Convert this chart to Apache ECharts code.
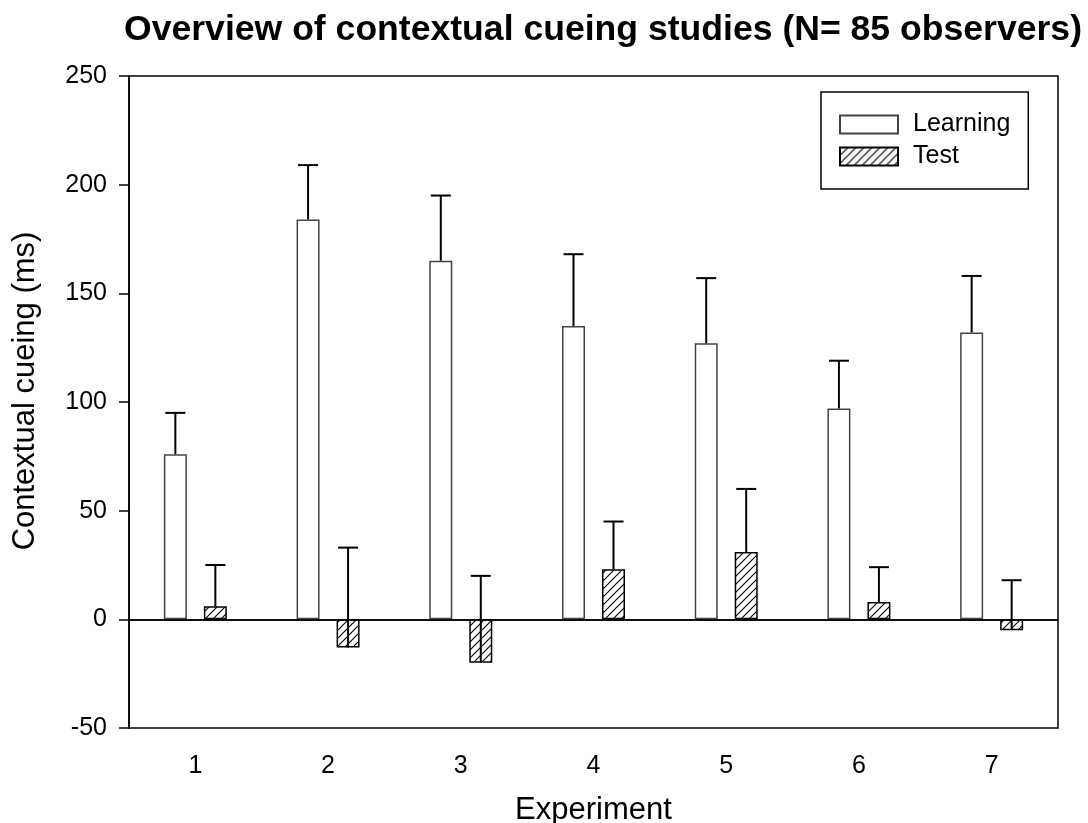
<!DOCTYPE html>
<html>
<head>
<meta charset="utf-8">
<script src="https://cdn.jsdelivr.net/npm/echarts@6/dist/echarts.min.js"></script>
<style>
html,body{margin:0;padding:0;background:#fff;}
#chart{width:1088px;height:823px;}
</style>
</head>
<body>
<div id="chart"></div>
<script>
// ---- data ----
const experiments = ['1', '2', '3', '4', '5', '6', '7'];
const learning = [76, 184, 165, 135, 127, 97, 132];
const learningUpper = [95, 209, 195, 168, 157, 119, 158];
const test = [6, -13, -20, 23, 31, 8, -5];
const testUpper = [25, 33, 20, 45, 60, 24, 18];
const yTicks = { min: -50, max: 250, interval: 50 };

const FONT = "'Liberation Sans', Arial, sans-serif";

// hatch pattern
function makeHatch() {
  const s = 8;
  const c = document.createElement('canvas');
  c.width = s; c.height = s;
  const g = c.getContext('2d');
  g.fillStyle = '#fff';
  g.fillRect(0, 0, s, s);
  g.strokeStyle = '#000';
  g.lineWidth = 1.1;
  g.beginPath();
  g.moveTo(0, s); g.lineTo(s, 0);
  g.moveTo(-1, 1); g.lineTo(1, -1);
  g.moveTo(s - 1, s + 1); g.lineTo(s + 1, s - 1);
  g.stroke();
  return c;
}
const hatch = { image: makeHatch(), repeat: 'repeat' };

const BAR_W = 23;
const BAR_GAP_PX = 17;
const OFFSET = (BAR_W + BAR_GAP_PX) / 2;

function errRender(offsetSign) {
  return function (params, api) {
    const i = api.value(0);
    const v = api.value(1);
    const hi = api.value(2);
    const p0 = api.coord([i, v]);
    const p1 = api.coord([i, hi]);
    const x = p0[0] + offsetSign * OFFSET;
    const cap = 10;
    return {
      type: 'group',
      children: [
        { type: 'line', shape: { x1: x, y1: p0[1], x2: x, y2: p1[1] },
          style: { stroke: '#000', lineWidth: 2 } },
        { type: 'line', shape: { x1: x - cap, y1: p1[1], x2: x + cap, y2: p1[1] },
          style: { stroke: '#000', lineWidth: 2 } }
      ]
    };
  };
}

const chart = echarts.init(document.getElementById('chart'), null, { renderer: 'canvas' });
chart.setOption({
  animation: false,
  backgroundColor: '#fff',
  title: {
    text: 'Overview of contextual cueing studies (N= 85 observers)',
    left: 598, top: 7, textAlign: 'center',
    textStyle: { fontFamily: FONT, fontWeight: 'bold', fontSize: 35.6, color: '#000' }
  },
  legend: {
    data: ['Learning', 'Test'],
    orient: 'vertical',
    left: 821, top: 92,
    padding: [20, 18, 20, 18],
    itemWidth: 58, itemHeight: 18, itemGap: 7,
    borderColor: '#000', borderWidth: 1.5,
    icon: 'rect',
    textStyle: { fontFamily: FONT, fontSize: 25, color: '#000', padding: [0, 0, 0, 10] }
  },
  grid: {
    left: 129, right: 30, top: 76, bottom: 95,
    containLabel: false,
    outerBoundsMode: 'none',
    show: true, borderColor: '#000', borderWidth: 1.5, backgroundColor: 'transparent'
  },
  xAxis: {
    type: 'category',
    data: experiments,
    name: 'Experiment',
    nameLocation: 'middle',
    nameGap: 67,
    nameTextStyle: { fontFamily: FONT, fontSize: 31, color: '#000' },
    axisLine: { lineStyle: { color: '#000', width: 1.5 } },
    axisTick: { alignWithLabel: true, length: 8, lineStyle: { color: '#000', width: 1.5 } },
    axisLabel: { fontFamily: FONT, fontSize: 25, color: '#000', margin: 26 },
    splitLine: { show: false }
  },
  yAxis: {
    type: 'value',
    min: yTicks.min, max: yTicks.max, interval: yTicks.interval,
    name: 'Contextual cueing (ms)',
    nameLocation: 'middle',
    nameGap: 88,
    nameTextStyle: { fontFamily: FONT, fontSize: 31, color: '#000', padding: [0, 0, 0, 22] },
    axisLine: { show: true, lineStyle: { color: '#000', width: 1.5 } },
    axisTick: { show: true, length: 10, lineStyle: { color: '#000', width: 1.5 } },
    axisLabel: { fontFamily: FONT, fontSize: 25, color: '#000', margin: 22 },
    splitLine: { show: false }
  },
  series: [
    {
      name: 'Learning', type: 'bar', data: learning,
      barWidth: BAR_W, barGap: (BAR_GAP_PX / BAR_W * 100) + '%',
      itemStyle: { color: '#fff', borderColor: '#444', borderWidth: 1.5 },
      markLine: {
        silent: true, symbol: 'none', label: { show: false },
        lineStyle: { color: '#000', width: 1.5, type: 'solid' },
        data: [{ yAxis: 0 }]
      },
      z: 2
    },
    {
      name: 'Test', type: 'bar', data: test,
      barWidth: BAR_W,
      itemStyle: { color: hatch, borderColor: '#000', borderWidth: 1.5 },
      z: 2
    },
    {
      name: 'LearningErr', type: 'custom',
      data: learning.map((v, i) => [i, v, learningUpper[i]]),
      renderItem: errRender(-1), z: 5, silent: true
    },
    {
      name: 'TestErr', type: 'custom',
      data: test.map((v, i) => [i, v, testUpper[i]]),
      renderItem: errRender(1), z: 5, silent: true
    }
  ]
});
</script>
</body>
</html>
